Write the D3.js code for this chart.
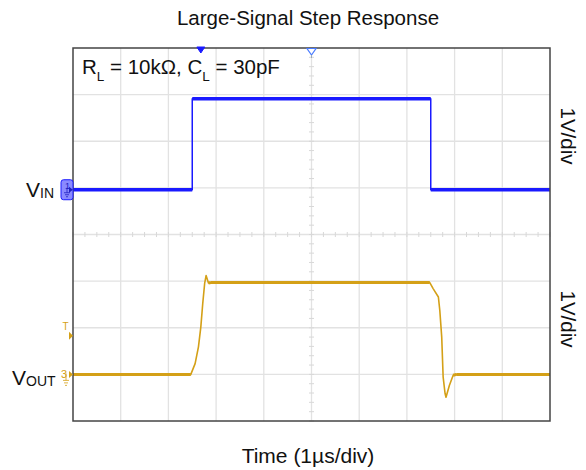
<!DOCTYPE html>
<html>
<head>
<meta charset="utf-8">
<script src="https://cdn.jsdelivr.net/npm/d3@7"></script>
<style>
  body { margin: 0; background: #fff; }
  text { font-family: "Liberation Sans", Arial, sans-serif; fill: #111; }
</style>
</head>
<body>
<div id="chart"></div>
<script>
// Scope capture data (time in us, volts, 1V/div on both channels)

var vinTime = [0, 2.5, 2.5, 7.5, 7.5, 10];
var vinVolts = [0, 0, 1.95, 1.95, 0, 0];

var voutTime = [0, 2.47, 2.56, 2.63, 2.68, 2.72, 2.76, 2.79, 2.84, 2.89, 7.48,
                7.55, 7.66, 7.69, 7.73, 7.76, 7.80, 7.82, 7.89, 7.97, 8.04, 10];
var voutVolts = [0, 0, 0.23, 0.59, 1.02, 1.52, 1.95, 2.12, 1.96, 1.97, 1.97,
                 1.84, 1.66, 1.37, 0.80, -0.06, -0.41, -0.49, -0.24, -0.02, 0, 0];

var ch1Offset = 0.96;   // divisions
var ch2Offset = -3.0;
var trigLevel = 0.83;   // volts on ch2
var cursorTime = 2.68;
var trigTime = 5;

var svgWidth = 586;
var svgHeight = 470;

var margin = { top: 48, right: 36, bottom: 49, left: 73 };
var width = svgWidth - margin.left - margin.right;
var height = svgHeight - margin.top - margin.bottom;

var svg = d3.select("#chart")
  .append("svg")
  .attr("width", svgWidth)
  .attr("height", svgHeight);

var g = svg.append("g")
  .attr("transform", `translate(${margin.left}, ${margin.top})`);

var xScale = d3.scaleLinear().domain([0, 10]).range([0, width]);
var yScale = d3.scaleLinear().domain([-4, 4]).range([height, 0]);

// Grid
g.selectAll(".vgrid")
  .data(d3.range(1, 10))
  .enter().append("line")
  .attr("x1", d => xScale(d)).attr("x2", d => xScale(d))
  .attr("y1", 0).attr("y2", height)
  .attr("stroke", "#e2e2e2").attr("stroke-width", 1.3);

g.selectAll(".hgrid")
  .data(d3.range(-3, 4))
  .enter().append("line")
  .attr("x1", 0).attr("x2", width)
  .attr("y1", d => yScale(d)).attr("y2", d => yScale(d))
  .attr("stroke", "#e2e2e2").attr("stroke-width", 1.3);

// minor ticks on the centre cross
g.selectAll(".xminor")
  .data(d3.range(0, 10.01, 0.25))
  .enter().append("line")
  .attr("x1", d => xScale(d)).attr("x2", d => xScale(d))
  .attr("y1", yScale(0) - 2.5).attr("y2", yScale(0) + 2.5)
  .attr("stroke", "#d8d8d8").attr("stroke-width", 1);

g.selectAll(".yminor")
  .data(d3.range(-4, 4.01, 0.2))
  .enter().append("line")
  .attr("x1", xScale(5) - 2.5).attr("x2", xScale(5) + 2.5)
  .attr("y1", d => yScale(d)).attr("y2", d => yScale(d))
  .attr("stroke", "#d8d8d8").attr("stroke-width", 1);

// Traces
function drawTrace(times, volts, offset, color, thin, thick) {
  var line = d3.line()
    .x((d, i) => xScale(times[i]))
    .y(d => yScale(d + offset));
  g.append("path")
    .datum(volts)
    .attr("fill", "none")
    .attr("stroke", color)
    .attr("stroke-width", thin)
    .attr("stroke-linejoin", "round")
    .attr("d", line);
  // flat parts look thicker on the scope (noise band)
  for (var i = 0; i < volts.length - 1; i++) {
    if (Math.abs(volts[i] - volts[i + 1]) < 0.05 && times[i + 1] > times[i]) {
      g.append("line")
        .attr("x1", xScale(times[i])).attr("x2", xScale(times[i + 1]))
        .attr("y1", yScale(volts[i] + offset)).attr("y2", yScale(volts[i + 1] + offset))
        .attr("stroke", color).attr("stroke-width", thick);
    }
  }
}

var blue = "#1a1aff";
var gold = "#d4a017";

drawTrace(vinTime, vinVolts, ch1Offset, blue, 1.5, 3.5);
drawTrace(voutTime, voutVolts, ch2Offset, gold, 1.6, 3);

// Frame
g.append("rect")
  .attr("width", width).attr("height", height)
  .attr("fill", "none")
  .attr("stroke", "#444").attr("stroke-width", 1.5);

// Top markers
var cx = xScale(cursorTime);
g.append("path")
  .attr("d", `M${cx - 4},-1 L${cx + 4},-1 L${cx},5 Z`)
  .attr("fill", blue).attr("stroke", blue).attr("stroke-width", 1).attr("stroke-linejoin", "round");

var tx = xScale(trigTime);
g.append("path")
  .attr("d", `M${tx - 4.5},0.5 L${tx + 4.5},0.5 L${tx},7 Z`)
  .attr("fill", "#fff").attr("stroke", "#4a7cff").attr("stroke-width", 1.2);
g.append("line")
  .attr("x1", tx).attr("x2", tx).attr("y1", 7).attr("y2", 10)
  .attr("stroke", "#9ab").attr("stroke-width", 1);

// Channel 1 ground marker
var y1 = yScale(ch1Offset);
g.append("rect")
  .attr("x", -12).attr("y", y1 - 10)
  .attr("width", 12).attr("height", 20).attr("rx", 2.5)
  .attr("fill", "#8a8aff").attr("stroke", blue).attr("stroke-width", 1);
g.append("text")
  .attr("x", -8).attr("y", y1 - 1)
  .style("font-size", "9px").style("fill", "#2020c0")
  .text("1");
g.append("path")
  .attr("d", `M-6,${y1 - 2} L-6,${y1 + 3} M-9,${y1 + 3} L-3,${y1 + 3} M-8,${y1 + 5} L-4,${y1 + 5} M-7,${y1 + 7} L-5,${y1 + 7}`)
  .attr("stroke", "#2020c0").attr("stroke-width", 0.8);
g.append("path")
  .attr("d", `M-4,${y1 - 3} L0,${y1} L-4,${y1 + 3} Z`)
  .attr("fill", "#2020c0");

// Channel 2 ground marker and trigger level
var y2 = yScale(ch2Offset);
g.append("text")
  .attr("x", -12).attr("y", y2 + 4)
  .style("font-size", "11px").style("fill", gold)
  .text("3");
g.append("path")
  .attr("d", `M-7,${y2 - 1} L-7,${y2 + 6} M-10,${y2 + 6} L-4,${y2 + 6} M-9,${y2 + 8.5} L-5,${y2 + 8.5} M-8,${y2 + 11} L-6,${y2 + 11}`)
  .attr("stroke", gold).attr("stroke-width", 0.8);
g.append("path")
  .attr("d", `M-4,${y2 - 3.5} L0,${y2} L-4,${y2 + 3.5} Z`)
  .attr("fill", gold);

var yt = yScale(trigLevel + ch2Offset);
g.append("text")
  .attr("x", -7.5).attr("y", yt - 6)
  .attr("text-anchor", "middle")
  .style("font-size", "10px").style("fill", gold)
  .text("T");
g.append("path")
  .attr("d", `M-4,${yt - 4} L0,${yt} L-4,${yt + 4} Z`)
  .attr("fill", gold);

// Labels
svg.append("text")
  .attr("x", 308).attr("y", 25)
  .attr("text-anchor", "middle")
  .style("font-size", "20.5px")
  .text("Large-Signal Step Response");

var cond = svg.append("text")
  .attr("x", 82).attr("y", 74)
  .style("font-size", "20.5px");
cond.append("tspan").text("R");
cond.append("tspan").attr("dy", 7).style("font-size", "13.5px").text("L");
cond.append("tspan").attr("dy", -7).text(" = 10kΩ, C");
cond.append("tspan").attr("dy", 7).style("font-size", "13.5px").text("L");
cond.append("tspan").attr("dy", -7).text(" = 30pF");

var vin = svg.append("text")
  .attr("x", 26).attr("y", 197)
  .style("font-size", "21px");
vin.append("tspan").text("V");
vin.append("tspan").attr("dy", 1).style("font-size", "14px").text("IN");

var vout = svg.append("text")
  .attr("x", 12).attr("y", 385)
  .style("font-size", "21px");
vout.append("tspan").text("V");
vout.append("tspan").attr("dy", 1).style("font-size", "14px").text("OUT");

[136, 319].forEach(function(cy) {
  svg.append("text")
    .attr("transform", `translate(561, ${cy}) rotate(90)`)
    .attr("text-anchor", "middle")
    .style("font-size", "20.5px")
    .text("1V/div");
});

svg.append("text")
  .attr("x", 308).attr("y", 463)
  .attr("text-anchor", "middle")
  .style("font-size", "21px")
  .text("Time (1µs/div)");
</script>
</body>
</html>
